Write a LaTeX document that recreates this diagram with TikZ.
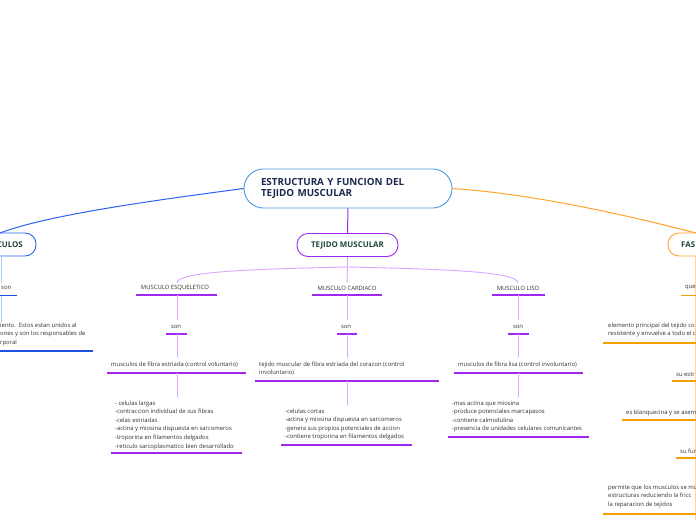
\documentclass[tikz,border=0pt]{standalone}
\usepackage{fontspec}
\setmainfont{Open Sans}
\definecolor{rootblue}{HTML}{4A98E0}
\definecolor{navy}{HTML}{1B2A4E}
\definecolor{dgreen}{HTML}{1E4638}
\definecolor{txt}{HTML}{333333}
\definecolor{mblue}{HTML}{2A62F0}
\definecolor{lblue}{HTML}{AECBFF}
\definecolor{ublue}{HTML}{1E50E0}
\definecolor{mpurple}{HTML}{A028F0}
\definecolor{lpurple}{HTML}{DCA6FF}
\definecolor{morange}{HTML}{FFA22E}
\definecolor{lorange}{HTML}{FFD39A}
\definecolor{uorange}{HTML}{F5A000}
\begin{document}
\begin{tikzpicture}[x=1pt,y=-1pt,
  lbl/.style={font=\fontsize{5.9}{8.6}\selectfont, text=txt, inner sep=0pt, align=left},
  headtxt/.style={font=\bfseries\fontsize{7.9}{9}\selectfont, text=dgreen, inner sep=0pt},
  rootbox/.style={draw=rootblue, line width=0.9pt, rounded corners=19.5pt, minimum width=208pt, minimum height=39pt,
     text width=174pt, inner xsep=17pt, align=left, text=navy, font=\bfseries\fontsize{9.8}{11.8}\selectfont},
  mainbox/.style={line width=0.9pt, rounded corners=11pt, minimum height=23pt, inner sep=0pt},
  pconn/.style={draw=lpurple, line width=0.9pt},
  pul/.style={draw=mpurple, line width=1.3pt},
  bconn/.style={draw=lblue, line width=1.5pt},
  bul/.style={draw=ublue, line width=1.3pt},
  oconn/.style={draw=lorange, line width=1.5pt},
  oul/.style={draw=uorange, line width=1.3pt}]
\useasboundingbox (0,0) rectangle (696,520);
\clip (0,0) rectangle (696,520);
\fill[white] (0,0) rectangle (696,520);

% root
\node[rootbox] (root) at (348,188.5) {ESTRUCTURA Y FUNCION DEL\\TEJIDO MUSCULAR};

% main boxes
\node[mainbox, draw=mpurple, minimum width=101pt] (tej) at (347.5,245) {};
\node[headtxt] (tejt) at (tej.center) {TEJIDO MUSCULAR};
\node[mainbox, draw=mblue, minimum width=80pt] (musc) at (-4,244.5) {};
\node[headtxt, anchor=east] (musct) at (23,245) {CULOS};
\node[mainbox, draw=morange, minimum width=80pt] (fas) at (708,244.5) {};
\node[headtxt, anchor=west] (fast) at (681,245) {FAS};

% main connectors
\draw[mblue, line width=1pt] (root.west) .. controls (165,199) and (50,214) .. (0,233);
\draw[morange, line width=1pt] (root.east) .. controls (535,194) and (630,216) .. (696,233);
\draw[mpurple, line width=1pt] (root.south) -- (tej.north);

% tejido branches
\coordinate (split) at (347.5,267);
\node[lbl] (esq) at (175,288) {MUSCULO ESQUELETICO};
\node[lbl] (car) at (347,288) {MUSCULO CARDIACO};
\node[lbl] (lis) at (518,288) {MUSCULO LISO};
\draw[pconn] (tej.south) -- (split);
\draw[pconn] (split) .. controls (260,269) and (177,271) .. (177,283);
\draw[pconn] (split) -- (347,283);
\draw[pconn] (split) .. controls (435,269) and (518,271) .. (518,283);

% --- esqueletico column
\coordinate (e1) at (177,295);
\draw[pul] (136,295) -- (217,295);
\node[lbl] (eson) at (176,327) {son};
\draw[pconn] (e1) -- (177,320);
\draw[pul] (166,334) -- (187,334);
\node[lbl, anchor=west] (edesc) at (111,365) {musculos de fibra estriada (control voluntario)};
\draw[pconn] (177,334) -- (177,357);
\draw[pul] (107,373) -- (246,373);
\node[lbl, anchor=north west] (elist) at (115,400.5) {- celulas largas\\-contraccion individual de sus fibras\\-celas estriadas\\-actina y miosina dispuesta en sarcomeros\\-troporina en filamentos delgados\\-reticulo sarcoplasmatico bien desarrollado};
\draw[pconn] (177,373) -- (177,397);
\draw[pul] (111,453) -- (242,453);

% --- cardiaco column
\draw[pul] (312,295) -- (382,295);
\node[lbl] (cson) at (346,327) {son};
\draw[pconn] (347,295) -- (347,320);
\draw[pul] (337,334) -- (357,334);
\node[lbl, anchor=north west] (cdesc) at (259,361.5) {tejido muscular de fibra estriada del corazon (control\\involuntario)};
\draw[pconn] (347,334) -- (347,358);
\draw[pul] (255,381) -- (439,381);
\node[lbl, anchor=north west] (clist) at (285,408.5) {-celulas cortas\\-actina y miosina dispuesta en sarcomeros\\-genera sus propios potenciales de accion\\-contiene troporina en filamentos delgados};
\draw[pconn] (347,381) -- (347,405);
\draw[pul] (281,445) -- (412,445);

% --- liso column
\draw[pul] (492,295) -- (545,295);
\node[lbl] (lson) at (518,327) {son};
\draw[pconn] (518,295) -- (518,320);
\draw[pul] (508,334) -- (529,334);
\node[lbl, anchor=west] (ldesc) at (458,365) {musculos de fibra lisa (control involuntario)};
\draw[pconn] (518,334) -- (518,357);
\draw[pul] (454,373) -- (583,373);
\node[lbl, anchor=north west] (llist) at (452,400.5) {-mas actina que miosina\\-produce potenciales marcapasos\\-contiene calmodulina\\-presencia de unidades celulares comunicantes};
\draw[pconn] (518,373) -- (518,397);
\draw[pul] (448,437) -- (589,437);

% --- left (musculos) column
\draw[bconn] (1.5,256) -- (1.5,283);
\node[lbl, anchor=west] (mson) at (1,288) {son};
\draw[bul] (0,295.5) -- (17,295.5);
\draw[bconn] (1.5,296) -- (1.5,322);
\node[lbl, anchor=north west] (mdesc) at (0,322.5) {iento.\ \ Estos estan unidos al\\ones y son los responsables de\\rporal};
\draw[bul] (0,351) -- (93,351);

% --- right (fascia) column
\draw[oconn] (695.5,256) -- (695.5,520);
\node[lbl, anchor=west] (fque) at (685,288) {que};
\draw[oul] (681,295.5) -- (696,295.5);
\node[lbl, anchor=north west] (fdesc) at (608,322.5) {elemento principal del tejido co\\resistente y envuelve a todo el c};
\draw[oul] (603,343) -- (696,343);
\node[lbl, anchor=west] (fest) at (676,374.5) {su estr};
\draw[oul] (672,381) -- (696,381);
\node[lbl, anchor=west] (fblan) at (626,412.5) {es blanquecina y se aseme};
\draw[oul] (622,420) -- (696,420);
\node[lbl, anchor=west] (ffun) at (680,451.5) {su fun};
\draw[oul] (676,458) -- (696,458);
\node[lbl, anchor=north west] (fperm) at (608,484.5) {permite que los musculos se mu\\estructuras reduciendo la fricc\\la reparacion de tejidos};
\draw[oul] (603,514) -- (696,514);
\end{tikzpicture}
\end{document}
